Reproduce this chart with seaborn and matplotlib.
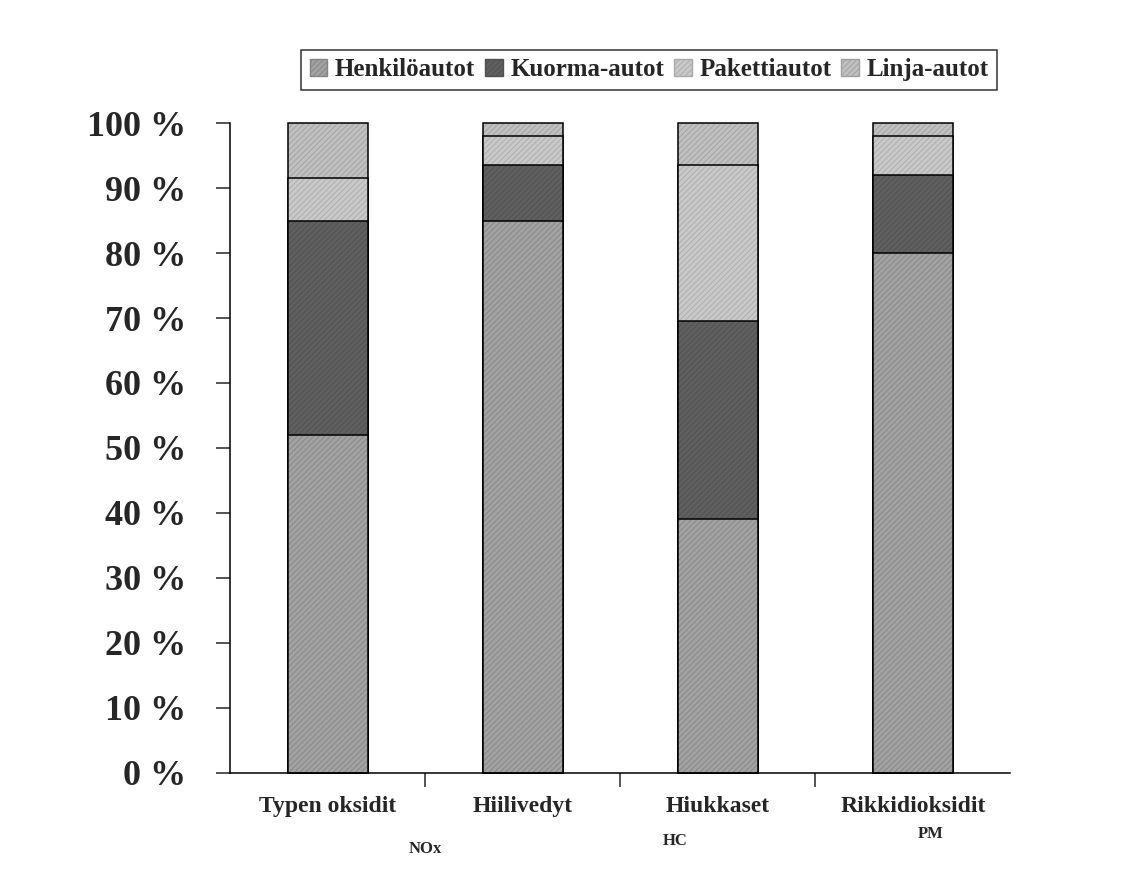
import matplotlib
matplotlib.use('Agg')
import matplotlib.pyplot as plt
import matplotlib.transforms as mtransforms
from matplotlib.patches import Patch
import numpy as np
import pandas as pd
import seaborn as sns

categories = ['Typen oksidit', 'Hiilivedyt', 'Hiukkaset', 'Rikkidioksidit']
sublabels = ['NOx', 'HC', 'PM']
series = ['Henkilöautot', 'Kuorma-autot', 'Pakettiautot', 'Linja-autot']
henkiloautot = [52, 85, 39, 80]
kuorma_autot = [33, 8.5, 30.5, 12]
pakettiautot = [6.5, 4.5, 24, 6]
linja_autot = [8.5, 2, 6.5, 2]
yticks = [0, 10, 20, 30, 40, 50, 60, 70, 80, 90, 100]

colors = {'Henkilöautot': '#a2a2a2', 'Kuorma-autot': '#5f5f5f',
          'Pakettiautot': '#c9c9c9', 'Linja-autot': '#c0c0c0'}
hatch_colors = {'Henkilöautot': '#848484', 'Kuorma-autot': '#505050',
                'Pakettiautot': '#aaaaaa', 'Linja-autot': '#a0a0a0'}

df = pd.DataFrame({'kategoria': categories, 'Henkilöautot': henkiloautot,
                   'Kuorma-autot': kuorma_autot, 'Pakettiautot': pakettiautot,
                   'Linja-autot': linja_autot})
cum = df[series].cumsum(axis=1)

sns.set_style('white')
plt.rcParams['font.family'] = ['Liberation Serif', 'DejaVu Serif']
plt.rcParams['font.weight'] = 'bold'
plt.rcParams['hatch.linewidth'] = 0.6

fig = plt.figure(figsize=(11.29, 8.74), dpi=100)
ax = fig.add_axes([0.204, 0.116, 0.691, 0.743])

# stacked look: draw cumulative totals from the top series down
for name in reversed(series):
    n_before = len(ax.patches)
    sns.barplot(x=df['kategoria'], y=cum[name], color=colors[name], width=0.41,
                edgecolor='black', linewidth=1.1, saturation=1, ax=ax)
    for p in ax.patches[n_before:]:
        p.set_hatch('//////')
        p._hatch_color = matplotlib.colors.to_rgba(hatch_colors[name])
        p.set_clip_on(False)

ax.set_xlim(-0.5, 3.5)
ax.set_ylim(0, 100)
ax.set_yticks(yticks)
ax.set_yticklabels([f'{v} %' for v in yticks], fontsize=26, fontweight='bold')
ax.tick_params(axis='y', direction='out', length=10, width=1.1, pad=22, left=True)
ax.set_xticks(range(len(categories)))
ax.set_xticklabels(categories, fontsize=17, fontweight='bold')
ax.set_xticks([0.5, 1.5, 2.5], minor=True)
ax.tick_params(axis='x', which='major', length=0, pad=17)
ax.tick_params(axis='x', which='minor', direction='out', length=10, width=1.1, bottom=True)
ax.set_xlabel('')
ax.set_ylabel('')
for side in ['top', 'right']:
    ax.spines[side].set_visible(False)
for side in ['left', 'bottom']:
    ax.spines[side].set_color('black')
    ax.spines[side].set_linewidth(1.1)

trans = mtransforms.blended_transform_factory(ax.transData, ax.transAxes)
for lab, xpos, ypos in zip(sublabels, [0.5, 1.78, 3.09], [-0.118, -0.106, -0.095]):
    ax.text(xpos, ypos, lab, transform=trans, ha='center', va='center',
            fontsize=12, fontweight='bold')

handles = [Patch(facecolor=colors[s], edgecolor=hatch_colors[s], hatch='//////', label=s)
           for s in series]
leg = fig.legend(handles=handles, loc='center', bbox_to_anchor=(0.575, 0.92), ncol=4,
                 fontsize=18, frameon=True, fancybox=False, edgecolor='black',
                 handlelength=0.7, handleheight=0.7, handletextpad=0.3,
                 columnspacing=0.4, borderpad=0.35)
leg.get_frame().set_linewidth(1.1)

fig.savefig('out.png', dpi=100, facecolor='white')
